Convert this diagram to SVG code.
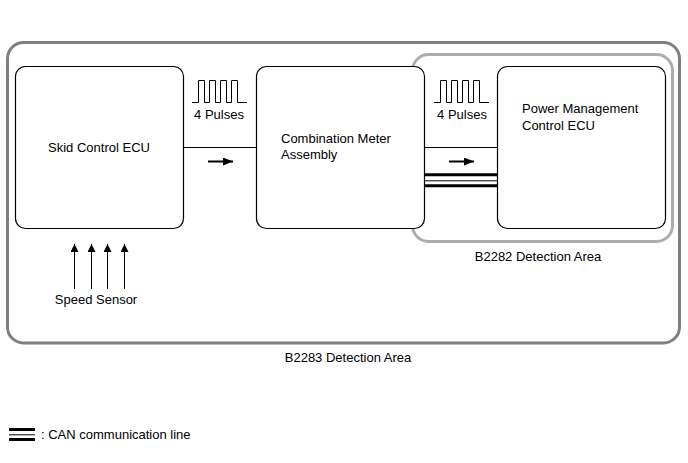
<svg xmlns="http://www.w3.org/2000/svg" width="688" height="463" viewBox="0 0 688 463">
<style>
text{font-family:"Liberation Sans",Arial,sans-serif;font-size:13px;fill:#000}
.node{fill:#fff;stroke:#000;stroke-width:1.2}
.ln{stroke:#000;stroke-width:1;fill:none}
.thick{stroke:#000;stroke-width:3}
.thin{stroke:#000;stroke-width:1}
</style>
<defs>
<marker id="ah" markerWidth="8" markerHeight="8" refX="8" refY="4" orient="auto" markerUnits="userSpaceOnUse">
<path d="M0,0 L8,4 L0,8 z" fill="#000"/>
</marker>
<marker id="ah2" markerWidth="10" markerHeight="8" refX="10" refY="4" orient="auto" markerUnits="userSpaceOnUse">
<path d="M0,0 L10,4 L0,8 z" fill="#000"/>
</marker>
</defs>
<g id="area-b2283">
<rect x="7.5" y="42.5" width="672" height="300.5" rx="16" fill="none" stroke="#7f7f7f" stroke-width="3"/>
<text x="348" y="362" text-anchor="middle">B2283 Detection Area</text>
</g>
<g id="area-b2282">
<rect x="412.5" y="54.5" width="260" height="187" rx="16" fill="none" stroke="#adadad" stroke-width="3"/>
<text x="538" y="261" text-anchor="middle">B2282 Detection Area</text>
</g>
<g id="connectors">
<line class="ln" x1="183.5" y1="147.5" x2="256.5" y2="147.5"/>
<line class="ln" x1="424.5" y1="147.5" x2="497.5" y2="147.5"/>
<line x1="208" y1="161.5" x2="233" y2="161.5" stroke="#000" stroke-width="2" marker-end="url(#ah2)"/>
<line x1="449" y1="161.5" x2="474" y2="161.5" stroke="#000" stroke-width="2" marker-end="url(#ah2)"/>
<line class="thick" x1="424.5" y1="174.7" x2="497.5" y2="174.7"/>
<line class="thin" x1="424.5" y1="180.8" x2="497.5" y2="180.8"/>
<line class="thick" x1="424.5" y1="185.7" x2="497.5" y2="185.7"/>
<polyline class="ln" points="192,102.5 198.5,102.5 198.5,80.5 204.5,80.5 204.5,102.5 209.5,102.5 209.5,80.5 215.5,80.5 215.5,102.5 220.5,102.5 220.5,80.5 226.5,80.5 226.5,102.5 231.5,102.5 231.5,80.5 237.5,80.5 237.5,102.5 247,102.5"/>
<text x="219" y="119" text-anchor="middle">4 Pulses</text>
<polyline class="ln" points="434,102.5 440.5,102.5 440.5,80.5 446.5,80.5 446.5,102.5 451.5,102.5 451.5,80.5 457.5,80.5 457.5,102.5 462.5,102.5 462.5,80.5 468.5,80.5 468.5,102.5 473.5,102.5 473.5,80.5 479.5,80.5 479.5,102.5 489,102.5"/>
<text x="462" y="119" text-anchor="middle">4 Pulses</text>
<line class="ln" x1="74.5" y1="289" x2="74.5" y2="244" marker-end="url(#ah)"/>
<line class="ln" x1="91.5" y1="289" x2="91.5" y2="244" marker-end="url(#ah)"/>
<line class="ln" x1="107.5" y1="289" x2="107.5" y2="244" marker-end="url(#ah)"/>
<line class="ln" x1="124.5" y1="289" x2="124.5" y2="244" marker-end="url(#ah)"/>
</g>
<g id="speed-sensor">
<text x="96" y="304" text-anchor="middle">Speed Sensor</text>
</g>
<g id="skid-control-ecu">
<rect class="node" x="15.5" y="66.5" width="168" height="162" rx="10"/>
<text x="99" y="152" text-anchor="middle">Skid Control ECU</text>
</g>
<g id="combination-meter">
<rect class="node" x="256.5" y="66.5" width="168" height="162" rx="10"/>
<text x="281" y="143">Combination Meter</text>
<text x="281" y="159">Assembly</text>
</g>
<g id="power-management-ecu">
<rect class="node" x="497.5" y="66.5" width="168" height="162" rx="10"/>
<text x="522" y="113">Power Management</text>
<text x="522" y="130">Control ECU</text>
</g>
<g id="legend">
<line class="thick" x1="9" y1="429.5" x2="35" y2="429.5"/>
<line class="thin" x1="9" y1="434.8" x2="35" y2="434.8"/>
<line class="thick" x1="9" y1="439.5" x2="35" y2="439.5"/>
<text x="41" y="439">: CAN communication line</text>
</g>
</svg>
